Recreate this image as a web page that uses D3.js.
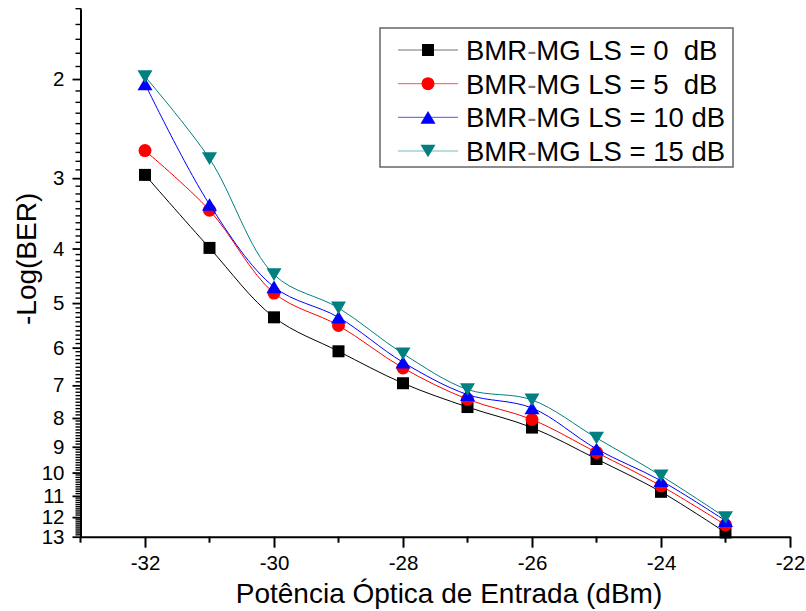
<!DOCTYPE html>
<html>
<head>
<meta charset="utf-8">
<script src="https://cdn.jsdelivr.net/npm/d3@7"></script>
<style>
  body { margin: 0; background: #fff; }
  svg { display: block; }
  text { font-family: Arial, "Liberation Sans", sans-serif; fill: #000; }
</style>
</head>
<body>
<svg id="chart" width="806" height="611"></svg>
<script>
// Input optical power (dBm)
const powerDbm = [-32, -31, -30, -29, -28, -27, -26, -25, -24, -23];

// -Log(BER) for each attenuation level
const berLs0  = [2.96, 3.99, 5.30, 6.09, 6.94, 7.65, 8.32, 9.46, 10.82, 12.78];
const berLs5  = [2.68, 3.42, 4.80, 5.48, 6.52, 7.41, 8.05, 9.21, 10.56, 12.39];
const berLs10 = [2.04, 3.34, 4.68, 5.30, 6.37, 7.27, 7.68, 9.08, 10.34, 12.18];
const berLs15 = [1.98, 2.77, 4.45, 5.10, 6.15, 7.12, 7.43, 8.68, 10.13, 12.02];

const seriesLabels = ["BMR-MG LS = 0  dB", "BMR-MG LS = 5  dB", "BMR-MG LS = 10 dB", "BMR-MG LS = 15 dB"];
const seriesColors = ["#000000", "#ff0000", "#0000ff", "#008080"];
const seriesShapes = ["square", "circle", "triangleUp", "triangleDown"];

const xTickValues = [-32, -30, -28, -26, -24, -22];
const xMinorTicks = [-33, -31, -29, -27, -25, -23];
const yTickValues = [2, 3, 4, 5, 6, 7, 8, 9, 10, 11, 12, 13];

const xTitle = "Potência Óptica de Entrada (dBm)";
const yTitle = "-Log(BER)";

const series = [berLs0, berLs5, berLs10, berLs15].map((vals, i) => ({
  label: seriesLabels[i],
  color: seriesColors[i],
  shape: seriesShapes[i],
  points: powerDbm.map((p, j) => ({ x: p, y: vals[j] }))
}));

const svg = d3.select("#chart");

const x = d3.scaleLinear().domain([-33, -22]).range([80.5, 790]);
const y = d3.scaleLog().domain([1.5, 13]).range([8.7, 536.7]);

const x0 = x.range()[0];
const yBottom = y.range()[1];

// Minor ticks on y: every 0.1 between the integer labels
const yMinorTicks = d3.range(15, 131).map(v => v / 10).filter(v => Math.abs(v - Math.round(v)) > 1e-9);

// ---- Minor ticks (drawn as plain lines) ----
const minorG = svg.append("g").attr("stroke", "#000");
minorG.selectAll("line.ym")
  .data(yMinorTicks)
  .join("line")
  .attr("class", "ym")
  .attr("x1", x0 - 5).attr("x2", x0 + 1)
  .attr("y1", d => y(d)).attr("y2", d => y(d))
  .attr("stroke-width", 1.4);

minorG.selectAll("line.xm")
  .data(xMinorTicks)
  .join("line")
  .attr("class", "xm")
  .attr("x1", d => x(d)).attr("x2", d => x(d))
  .attr("y1", yBottom).attr("y2", yBottom + 6)
  .attr("stroke-width", 2);

function styleAxis(g, width) {
  g.selectAll(".domain").attr("stroke", "#000").attr("stroke-width", 2);
  g.selectAll(".tick line").attr("stroke", "#000").attr("stroke-width", width);
  g.selectAll(".tick text")
    .attr("font-size", 20.5)
    .attr("font-family", "Arial, 'Liberation Sans', sans-serif")
    .attr("fill", "#000");
}

// ---- Major axes ----
const gx = svg.append("g").attr("transform", `translate(0,${yBottom})`)
  .call(d3.axisBottom(x).tickValues(xTickValues).tickSize(11).tickSizeOuter(0).tickPadding(8)
    .tickFormat(d => String(d)));
styleAxis(gx, 2);

const gy = svg.append("g").attr("transform", `translate(${x0},0)`)
  .call(d3.axisLeft(y).tickValues(yTickValues).tickSize(8).tickSizeOuter(0).tickPadding(8)
    .tickFormat(d => String(d)));
styleAxis(gy, 1.8);

// ---- Axis titles ----
svg.append("text")
  .attr("x", 449).attr("y", 603)
  .attr("text-anchor", "middle")
  .attr("font-size", 28)
  .text(xTitle);

svg.append("text")
  .attr("transform", "translate(36,325) rotate(-90)")
  .attr("text-anchor", "start")
  .attr("font-size", 28)
  .text(yTitle);

// ---- Marker shapes ----
function markerPath(shape) {
  switch (shape) {
    case "square": return "M-6,-6H6V6H-6Z";
    case "circle": return d3.symbol(d3.symbolCircle, Math.PI * 6.5 * 6.5)();
    case "triangleUp": return "M0,-6.3L7.5,6.3H-7.5Z";
    case "triangleDown": return "M0,6.3L7.5,-6.3H-7.5Z";
  }
}

const line = d3.line()
  .x(d => x(d.x))
  .y(d => y(d.y))
  .curve(d3.curveCatmullRom.alpha(0.5));

const plot = svg.append("g");
series.forEach(s => {
  const g = plot.append("g");
  g.append("path")
    .attr("d", line(s.points))
    .attr("fill", "none")
    .attr("stroke", s.color)
    .attr("stroke-width", 1);
  g.selectAll("path.mk")
    .data(s.points)
    .join("path")
    .attr("class", "mk")
    .attr("transform", d => `translate(${x(d.x)},${y(d.y)})`)
    .attr("d", markerPath(s.shape))
    .attr("fill", s.color);
});

// ---- Legend ----
const legend = svg.append("g");
legend.append("rect")
  .attr("x", 380).attr("y", 28)
  .attr("width", 353).attr("height", 139)
  .attr("fill", "#fff")
  .attr("stroke", "#666")
  .attr("stroke-width", 1.5);

const rowY = d3.scaleLinear().domain([0, 3]).range([50, 151]);
series.forEach((s, i) => {
  const cy = rowY(i);
  legend.append("line")
    .attr("x1", 398).attr("x2", 458)
    .attr("y1", cy).attr("y2", cy)
    .attr("stroke", s.color)
    .attr("stroke-opacity", 0.55)
    .attr("stroke-width", 1.2);
  legend.append("path")
    .attr("transform", `translate(428,${cy})`)
    .attr("d", markerPath(s.shape))
    .attr("fill", s.color);
  const parts = s.label.split("-");
  const t = legend.append("text")
    .attr("x", 466).attr("y", cy + 10)
    .attr("font-size", 27.5)
    .style("white-space", "pre");
  t.append("tspan").text(parts[0]);
  t.append("tspan").attr("fill", "#777").text("-");
  t.append("tspan").text(parts[1]);
});
</script>
</body>
</html>
